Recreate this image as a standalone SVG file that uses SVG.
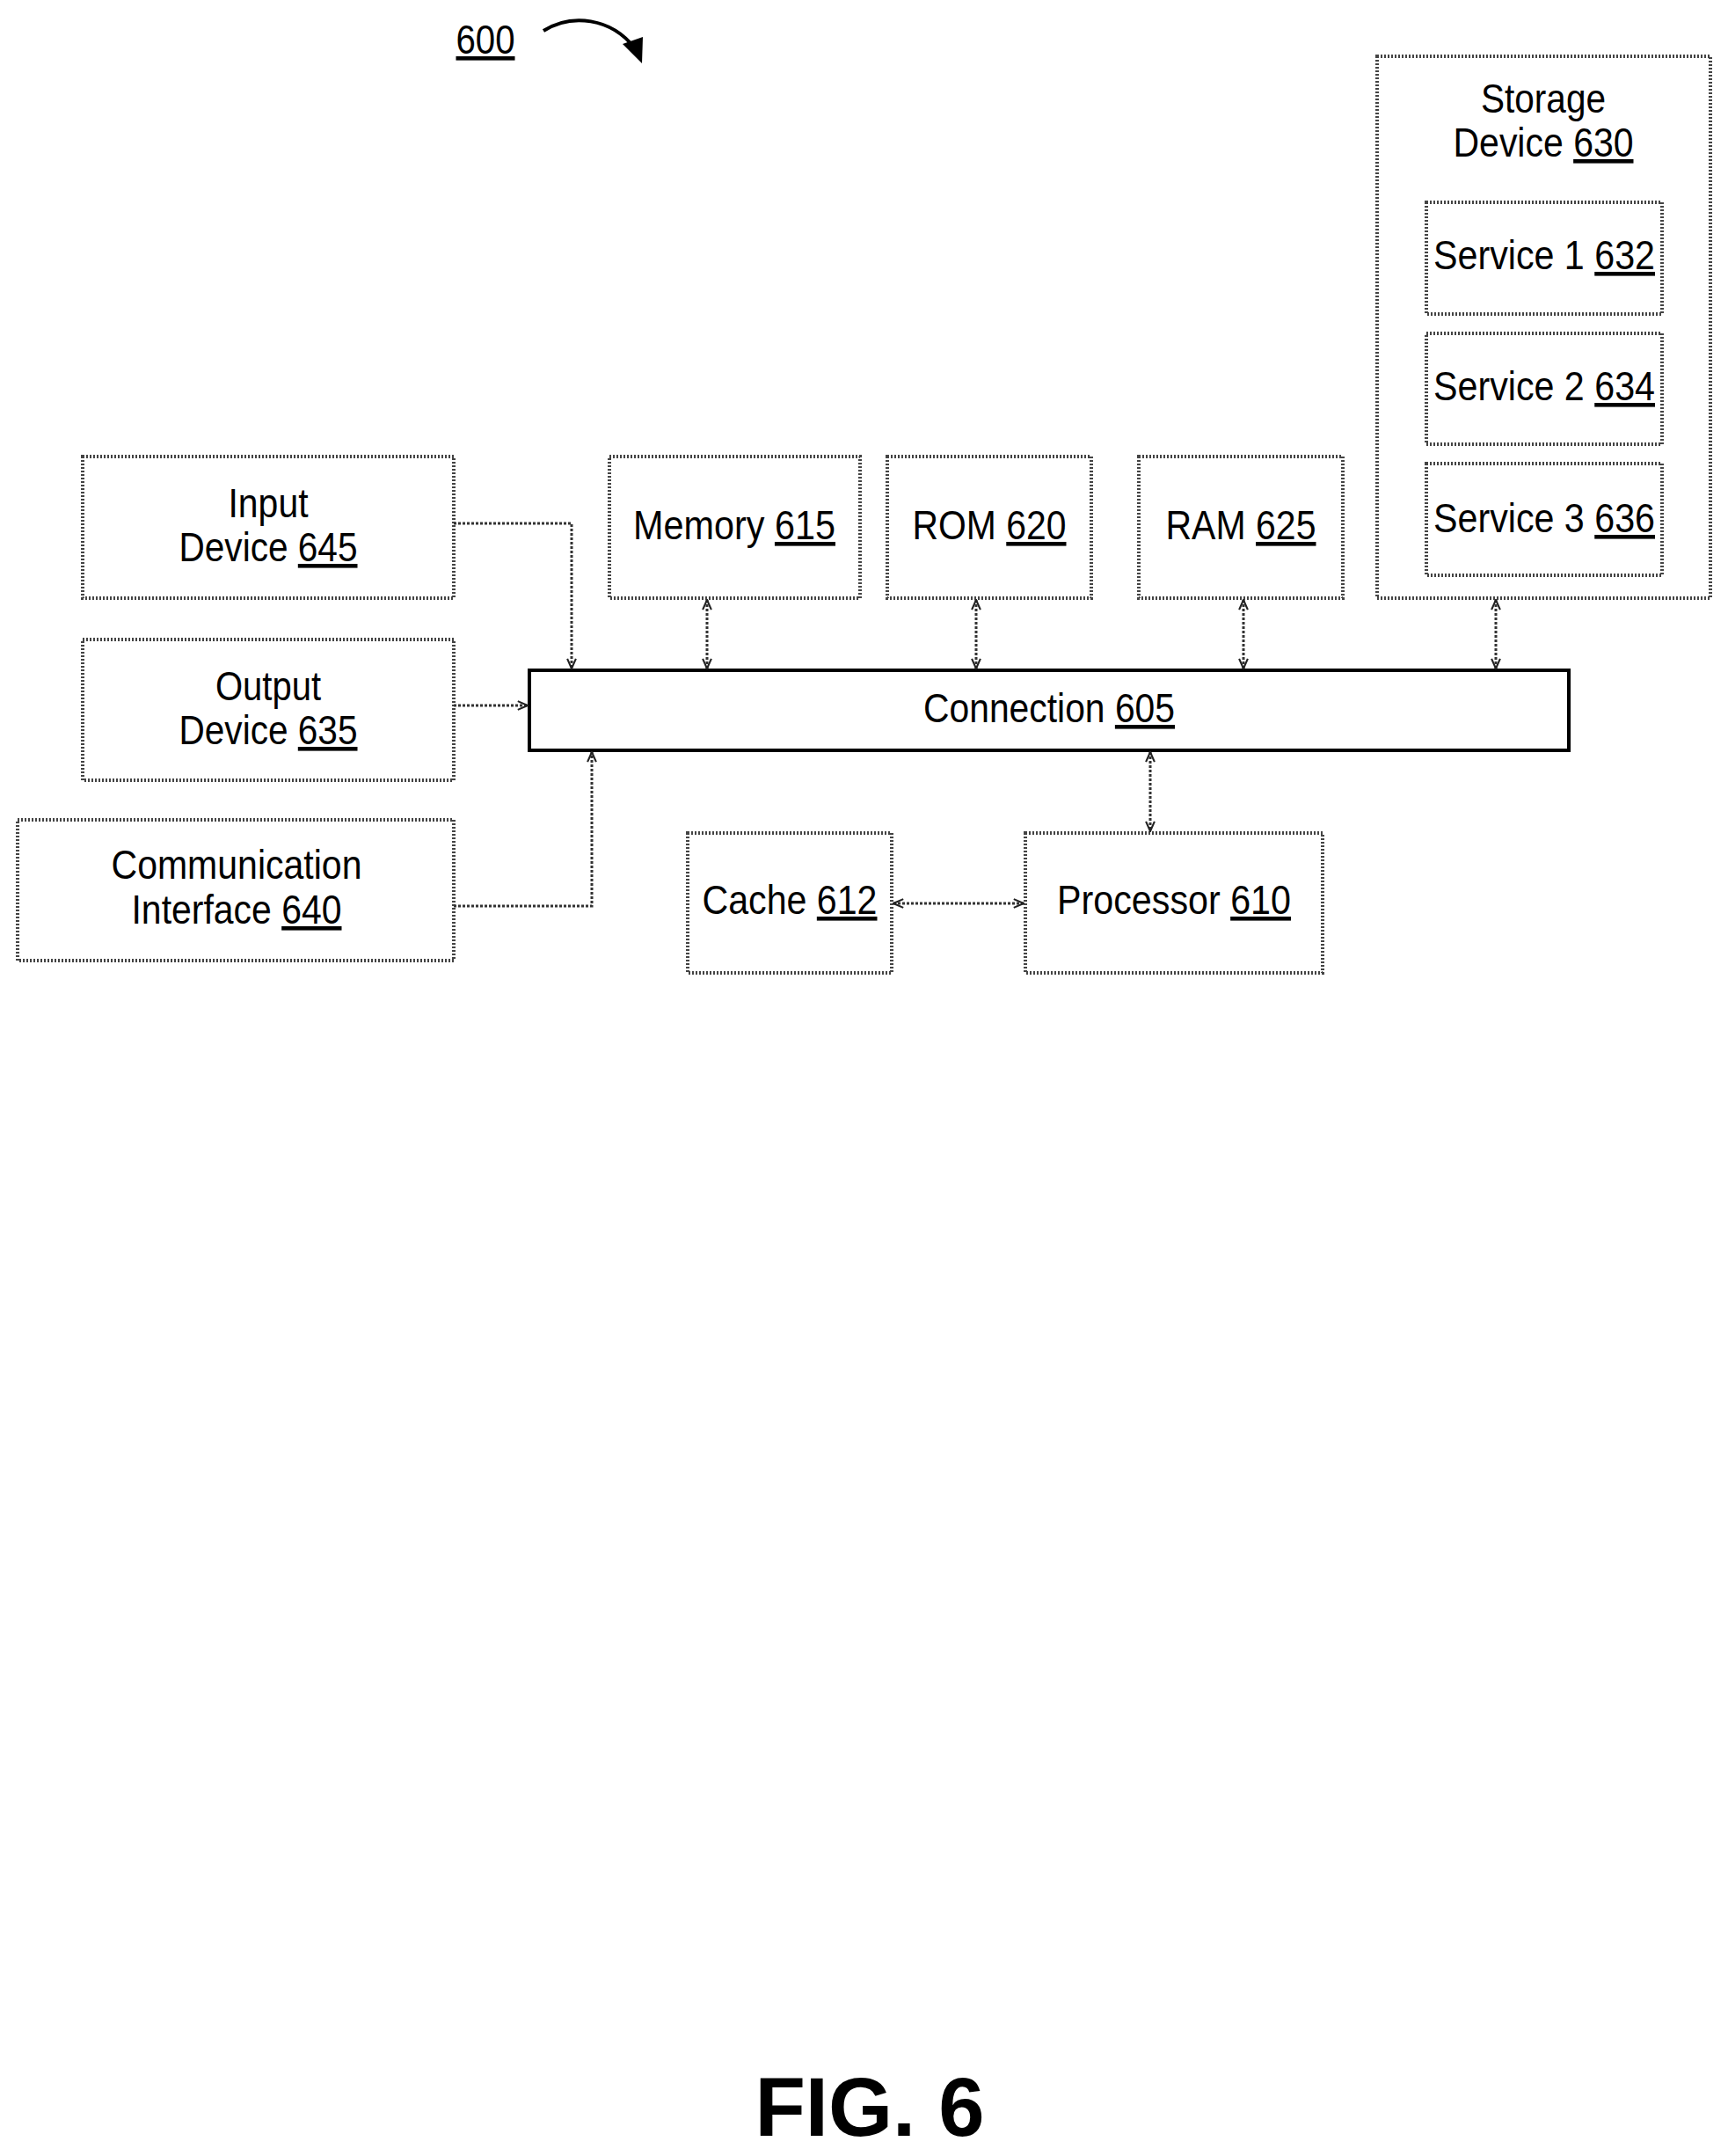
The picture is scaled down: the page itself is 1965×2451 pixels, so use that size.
<svg xmlns="http://www.w3.org/2000/svg" width="1965" height="2451" viewBox="0 0 1965 2451">
<style>
.box{fill:none;stroke:#444;stroke-width:4;stroke-dasharray:2 2}
.bar{fill:none;stroke:#000;stroke-width:4}
.ln{fill:none;stroke:#333;stroke-width:3;stroke-dasharray:3 2}
text{font-family:"Liberation Sans",Arial,sans-serif;font-size:46px;fill:#000;text-anchor:middle}
.u{text-decoration:underline}
</style>
<defs>
<marker id="a" viewBox="0 0 10 10" refX="9" refY="5" markerWidth="14" markerHeight="14" orient="auto-start-reverse" markerUnits="userSpaceOnUse">
<path d="M1,1.5 L9,5 L1,8.5" fill="none" stroke="#222" stroke-width="1.5"/>
</marker>
</defs>
<rect width="1965" height="2451" fill="#fff"/>
<g id="label600"><text x="552" y="61" textLength="67" lengthAdjust="spacingAndGlyphs"><tspan class="u">600</tspan></text>
<path d="M618,35 C650,15 695,20 722,55" fill="none" stroke="#000" stroke-width="4"/>
<path d="M708,50 L730,72 L731,42 Z" fill="#000"/></g>
<g id="storage"><rect class="box" x="1566" y="64" width="379" height="616"/>
<text x="1755" y="128" textLength="142" lengthAdjust="spacingAndGlyphs">Storage</text>
<text x="1755" y="178" textLength="205" lengthAdjust="spacingAndGlyphs">Device <tspan class="u">630</tspan></text></g>
<g id="s1"><rect class="box" x="1622" y="230" width="268" height="127"/><text x="1756" y="306" textLength="252" lengthAdjust="spacingAndGlyphs">Service 1 <tspan class="u">632</tspan></text></g>
<g id="s2"><rect class="box" x="1622" y="379" width="268" height="126"/><text x="1756" y="455" textLength="252" lengthAdjust="spacingAndGlyphs">Service 2 <tspan class="u">634</tspan></text></g>
<g id="s3"><rect class="box" x="1622" y="527" width="268" height="127"/><text x="1756" y="605" textLength="252" lengthAdjust="spacingAndGlyphs">Service 3 <tspan class="u">636</tspan></text></g>
<g id="input"><rect class="box" x="94" y="519" width="422" height="161"/>
<text x="305" y="588" textLength="91" lengthAdjust="spacingAndGlyphs">Input</text>
<text x="305" y="638" textLength="203" lengthAdjust="spacingAndGlyphs">Device <tspan class="u">645</tspan></text></g>
<g id="output"><rect class="box" x="94" y="727" width="422" height="160"/>
<text x="305" y="796" textLength="120" lengthAdjust="spacingAndGlyphs">Output</text>
<text x="305" y="846" textLength="203" lengthAdjust="spacingAndGlyphs">Device <tspan class="u">635</tspan></text></g>
<g id="comm"><rect class="box" x="20" y="932" width="496" height="160"/>
<text x="269" y="999" textLength="285" lengthAdjust="spacingAndGlyphs">Communication</text>
<text x="269" y="1050" textLength="239" lengthAdjust="spacingAndGlyphs">Interface <tspan class="u">640</tspan></text></g>
<g id="memory"><rect class="box" x="693" y="519" width="285" height="161"/><text x="835" y="613" textLength="230" lengthAdjust="spacingAndGlyphs">Memory <tspan class="u">615</tspan></text></g>
<g id="rom"><rect class="box" x="1009" y="519" width="232" height="161"/><text x="1125" y="613" textLength="175" lengthAdjust="spacingAndGlyphs">ROM <tspan class="u">620</tspan></text></g>
<g id="ram"><rect class="box" x="1295" y="519" width="232" height="161"/><text x="1411" y="613" textLength="171" lengthAdjust="spacingAndGlyphs">RAM <tspan class="u">625</tspan></text></g>
<g id="connection"><rect class="bar" x="602" y="762" width="1182" height="91"/><text x="1193" y="821" textLength="286" lengthAdjust="spacingAndGlyphs">Connection <tspan class="u">605</tspan></text></g>
<g id="cache"><rect class="box" x="782" y="947" width="232" height="159"/><text x="898" y="1039" textLength="199" lengthAdjust="spacingAndGlyphs">Cache <tspan class="u">612</tspan></text></g>
<g id="processor"><rect class="box" x="1166" y="947" width="338" height="159"/><text x="1335" y="1039" textLength="266" lengthAdjust="spacingAndGlyphs">Processor <tspan class="u">610</tspan></text></g>
<g id="connectors">
<path class="ln" d="M516,595 H650 V760" marker-end="url(#a)"/>
<path class="ln" d="M516,802 H600" marker-end="url(#a)"/>
<path class="ln" d="M516,1030 H673 V855" marker-end="url(#a)"/>
<path class="ln" d="M804,682 V760" marker-start="url(#a)" marker-end="url(#a)"/>
<path class="ln" d="M1110,682 V760" marker-start="url(#a)" marker-end="url(#a)"/>
<path class="ln" d="M1414,682 V760" marker-start="url(#a)" marker-end="url(#a)"/>
<path class="ln" d="M1701,682 V760" marker-start="url(#a)" marker-end="url(#a)"/>
<path class="ln" d="M1308,855 V945" marker-start="url(#a)" marker-end="url(#a)"/>
<path class="ln" d="M1016,1027 H1164" marker-start="url(#a)" marker-end="url(#a)"/>
</g>
<text x="989" y="2428" style="font-size:94px;font-weight:bold">FIG. 6</text>
</svg>
